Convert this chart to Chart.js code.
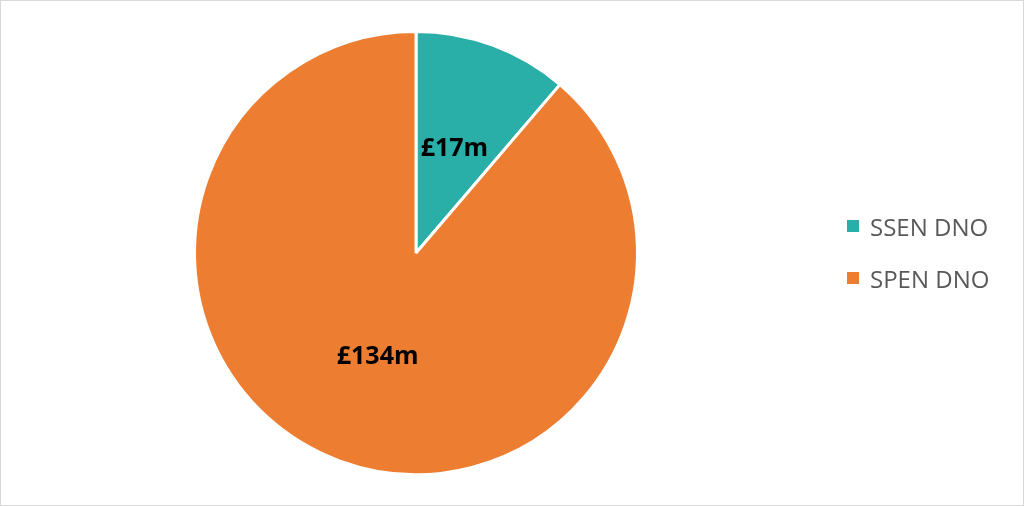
<!DOCTYPE html>
<html>
<head>
<meta charset="utf-8">
<script src="https://cdn.jsdelivr.net/npm/chart.js@4.4.0/dist/chart.umd.min.js"></script>
<style>
  html, body { margin: 0; padding: 0; background: #fff; }
  #wrap { position: relative; width: 1024px; height: 506px; box-sizing: border-box; border: 1px solid #d9d9d9; }
  #chart { position: absolute; left: 0; top: 0; }
  #legend { position: absolute; left: 846px; top: 211px; font-family: "Open Sans", sans-serif; font-size: 24px; color: #595959; }
  .item { display: flex; align-items: center; height: 28px; margin-bottom: 24px; }
  .box { width: 12px; height: 12px; margin-right: 11px; }
</style>
</head>
<body>
<div id="wrap">
  <canvas id="chart" width="1022" height="504"></canvas>
  <div id="legend"></div>
</div>
<script>
// Data
const labels = ['SSEN DNO', 'SPEN DNO'];
const values = [17, 134];
const valueLabels = ['£17m', '£134m'];
const colors = ['#2aaea8', '#ed7d31'];

// Slice value labels
const sliceLabels = {
    id: 'sliceLabels',
    afterDatasetsDraw(chart) {
        const ctx = chart.ctx;
        const meta = chart.getDatasetMeta(0);
        ctx.save();
        ctx.font = 'bold 25px "Open Sans", sans-serif';
        ctx.fillStyle = '#000';
        ctx.textAlign = 'center';
        ctx.textBaseline = 'middle';
        meta.data.forEach((arc, i) => {
            const pos = arc.tooltipPosition();
            ctx.fillText(valueLabels[i], pos.x, pos.y);
        });
        ctx.restore();
    }
};

new Chart(document.getElementById('chart'), {
    type: 'pie',
    data: {
        labels: labels,
        datasets: [{
            data: values,
            backgroundColor: colors,
            borderColor: '#ffffff',
            borderWidth: 3
        }]
    },
    options: {
        responsive: false,
        animation: false,
        layout: { padding: { top: 29, bottom: 29, left: 0, right: 192 } },
        plugins: {
            legend: { display: false },
            tooltip: { enabled: false }
        }
    },
    plugins: [sliceLabels]
});

// Legend
const legend = document.getElementById('legend');
labels.forEach((name, i) => {
    const item = document.createElement('div');
    item.className = 'item';
    item.innerHTML = `<div class="box" style="background:${colors[i]}"></div><span>${name}</span>`;
    legend.appendChild(item);
});
</script>
</body>
</html>
